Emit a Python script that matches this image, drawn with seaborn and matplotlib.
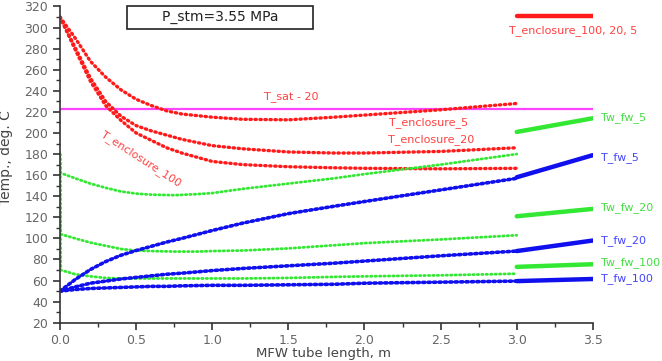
import pandas as pd
import seaborn as sns
import matplotlib.pyplot as plt
from matplotlib.patches import Rectangle

# tube length points (m) for the computed profiles
x_enc = [0.0, 0.1, 0.2, 0.3, 0.4, 0.5, 0.6, 0.7, 0.8, 1.0, 1.2, 1.5, 1.8, 2.0, 2.5, 3.0]
t_enc_5 = [310, 290, 268, 253, 241, 232, 226, 221, 218, 215, 213, 212.5, 215, 217, 222, 228]
t_enc_20 = [310, 281, 252, 230, 216, 207, 202, 198, 194, 188, 185, 182, 181, 181, 182.5, 186]
t_enc_100 = [310, 279, 249, 226, 212, 200, 193, 186, 181, 173, 170, 168, 167, 166.5, 166, 166.5]

x_fw = [0.0, 0.005, 0.1, 0.2, 0.3, 0.4, 0.5, 0.6, 0.75, 0.9, 1.0, 1.2, 1.5, 1.8, 2.0, 2.5, 3.0]
tw_fw_5 = [180, 162, 157, 152, 148, 144.5, 142.5, 141.5, 141, 142, 143, 147, 152, 157, 161, 170, 180]
tw_fw_20 = [180, 104, 100, 96, 93, 90, 88.5, 88, 87.5, 87.5, 88, 88.5, 90.5, 93.5, 95.5, 99, 103]
tw_fw_100 = [180, 70, 66, 64, 62.5, 62, 62, 62, 62, 62, 62, 62, 62.5, 63.5, 64, 65, 66.5]

x_t = [0.0, 0.1, 0.2, 0.3, 0.4, 0.5, 0.6, 0.7, 0.8, 1.0, 1.2, 1.5, 1.8, 2.0, 2.5, 3.0]
t_fw_5 = [50, 61, 70.5, 78, 84, 88.5, 92.5, 96.5, 100, 107.5, 114.5, 123.5, 130.5, 135, 146, 157]
t_fw_20 = [50, 54, 57.5, 59.5, 61.5, 63, 64.5, 66, 67, 69.5, 71.5, 74, 76.5, 78.5, 83.5, 88]
t_fw_100 = [50, 51.5, 52.5, 53, 53.5, 54, 54.5, 54.5, 55, 55.5, 55.5, 56, 56.5, 57.5, 58.5, 59.5]

# short segments drawn between 3.0 and 3.5 m
x_seg = [3.0, 3.5]
seg_enc = [311, 311]
seg_tw_5 = [201, 214]
seg_tw_20 = [121, 128]
seg_tw_100 = [73, 75.5]
seg_t_5 = [158, 179]
seg_t_20 = [88, 98]
seg_t_100 = [59.5, 61.5]

x_sat = [0.0, 3.5]
t_sat = [223, 223]

red, green, blue, mag = '#ff1a1a', '#33e833', '#1010ee', '#ff44ff'

sns.set_style('ticks')
plt.rcParams['font.family'] = ['DejaVu Sans']

fig = plt.figure(figsize=(6.62, 3.61), dpi=100)
ax = fig.add_axes([0.0906, 0.106, 0.805, 0.876])

dots = dict(estimator=None, sort=False, dash_capstyle='round')

sns.lineplot(x=x_sat, y=t_sat, color=mag, linewidth=1.6, ax=ax, estimator=None)
for y in [t_enc_5, t_enc_20, t_enc_100]:
    sns.lineplot(x=x_enc, y=y, color=red, linewidth=2.4, linestyle=(0, (0.4, 1.1)), ax=ax, **dots)
for y in [tw_fw_5, tw_fw_20, tw_fw_100]:
    sns.lineplot(x=x_fw, y=y, color=green, linewidth=2.0, linestyle=(0, (0.5, 1.1)), ax=ax, **dots)
for y in [t_fw_5, t_fw_20, t_fw_100]:
    sns.lineplot(x=x_t, y=y, color=blue, linewidth=2.6, linestyle=(0, (0.6, 0.9)), ax=ax, **dots)

for y, c in [(seg_enc, red), (seg_tw_5, green), (seg_tw_20, green), (seg_tw_100, green),
             (seg_t_5, blue), (seg_t_20, blue), (seg_t_100, blue)]:
    sns.lineplot(x=x_seg, y=y, color=c, linewidth=3.2, ax=ax, estimator=None)

ax.set_xlim(0, 3.5)
ax.set_ylim(20, 320)
ax.set_xticks([0, 0.5, 1.0, 1.5, 2.0, 2.5, 3.0, 3.5])
ax.set_xticklabels(['0.0', '0.5', '1.0', '1.5', '2.0', '2.5', '3.0', '3.5'])
ax.set_xticks([0.25, 0.75, 1.25, 1.75, 2.25, 2.75, 3.25], minor=True)
ax.set_yticks(range(20, 321, 20))
ax.set_yticks(range(30, 320, 20), minor=True)
ax.tick_params(axis='both', which='major', length=5, width=1.2, colors='#333333',
               labelcolor='#666666', labelsize=9)
ax.tick_params(axis='both', which='minor', length=3, width=1.0, colors='#333333')
ax.tick_params(axis='x', pad=3)
sns.despine(ax=ax)
for s in ['left', 'bottom']:
    ax.spines[s].set_color('#333333')
    ax.spines[s].set_linewidth(1.2)
ax.set_xlabel('')
ax.set_ylabel('')

fig.text(323 / 662, 1 - 353 / 361, 'MFW tube length, m', ha='center', va='center',
         fontsize=9.5, color='#444444')
fig.text(6 / 662, 1 - 158 / 361, 'Temp., deg. C', ha='center', va='center',
         rotation=90, fontsize=10, color='#444444')

# pressure box
fig.patches.append(Rectangle((127 / 662, 1 - 29 / 361), 186 / 662, 23 / 361,
                             transform=fig.transFigure, fill=False, edgecolor='#222222',
                             linewidth=1.2))
fig.text(220 / 662, 1 - 17 / 361, 'P_stm=3.55 MPa', ha='center', va='center',
         fontsize=10, color='#222222')

lab = dict(fontsize=8, ha='center', va='center')
ax.text(3.37, 297, 'T_enclosure_100, 20, 5', color='#ff4040', clip_on=False, **lab)
ax.text(1.52, 235, 'T_sat - 20', color='#ff4040', **lab)
ax.text(2.42, 210, 'T_enclosure_5', color='#ff4040', **lab)
ax.text(2.44, 194, 'T_enclosure_20', color='#ff4040', **lab)
ax.text(0.53, 176, 'T_enclosure_100', color='#ff4040', rotation=-33, **lab)

side = dict(fontsize=8, ha='left', va='center', clip_on=False)
ax.text(3.55, 215, 'Tw_fw_5', color='#44dd44', **side)
ax.text(3.55, 177, 'T_fw_5', color='#4444ff', **side)
ax.text(3.55, 129, 'Tw_fw_20', color='#44dd44', **side)
ax.text(3.55, 97.5, 'T_fw_20', color='#4444ff', **side)
ax.text(3.55, 77.5, 'Tw_fw_100', color='#44dd44', **side)
ax.text(3.55, 61.5, 'T_fw_100', color='#4444ff', **side)

fig.savefig('out.png', dpi=100)
